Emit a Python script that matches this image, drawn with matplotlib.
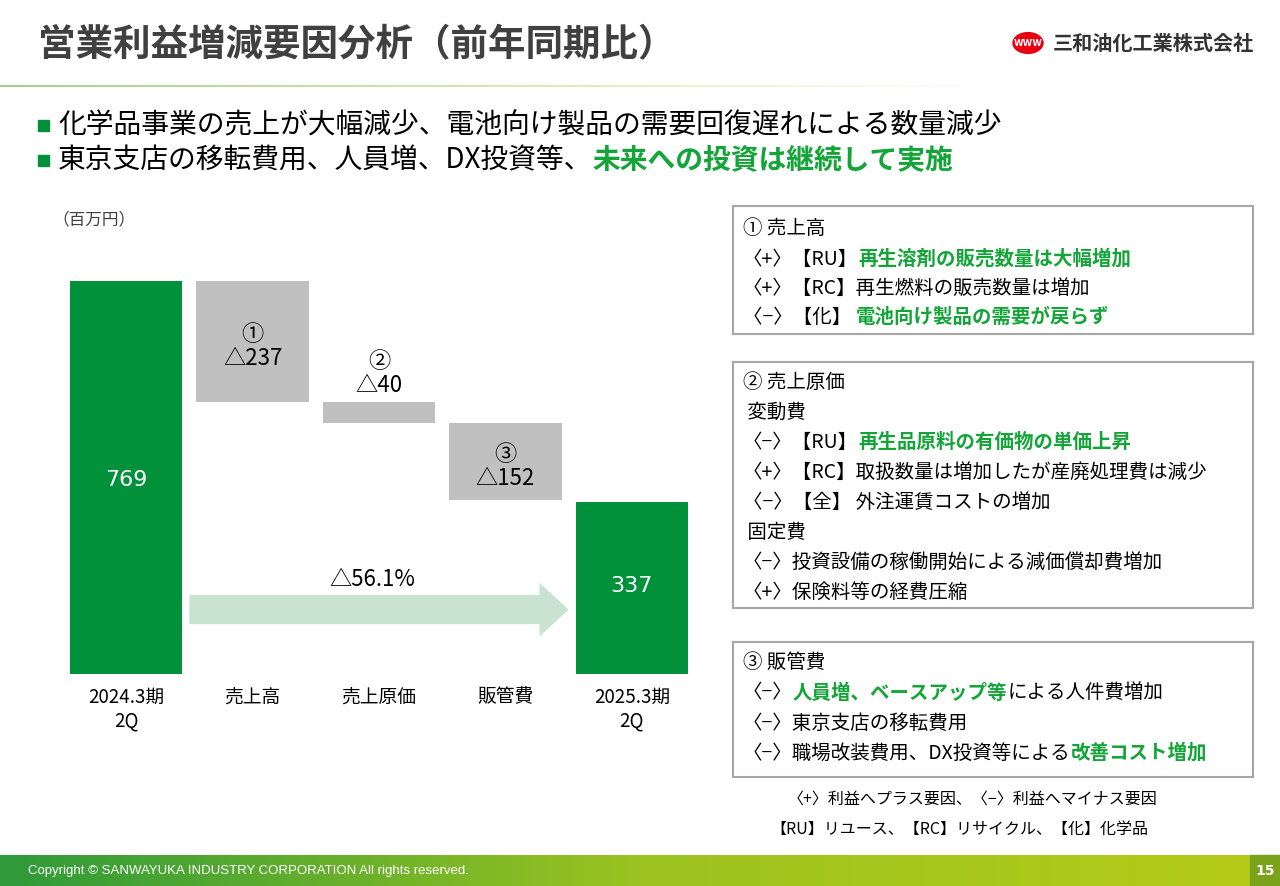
import matplotlib
matplotlib.use("Agg")
import matplotlib.pyplot as plt
from matplotlib.patches import Rectangle, Circle, FancyArrow
from matplotlib.colors import LinearSegmentedColormap
import numpy as np

plt.rcParams["font.family"] = "Noto Sans CJK JP"

categories = ["2024.3期\n2Q", "売上高", "売上原価", "販管費", "2025.3期\n2Q"]
start_value = 769
changes = [-237, -40, -152]
end_value = 337
change_labels = ["①\n△237", "②\n△40", "③\n△152"]
total_label = "△56.1%"

GREEN = "#00913a"
TGREEN = "#13a538"
GRAY = "#c0c0c0"
DARK = "#404040"

W, H = 1280, 886
fig = plt.figure(figsize=(12.8, 8.86), dpi=100)


def fx(x):
    return x / W


def fy(y):
    return 1 - y / H


def runs(x, y, parts, size=13):
    r = fig.canvas.get_renderer()
    for txt, col, bold in parts:
        t = fig.text(fx(x), fy(y), txt, color=col, fontsize=size,
                     fontweight="bold" if bold else "normal", va="center", ha="left")
        x += t.get_window_extent(renderer=r).width


# header
fig.text(fx(38), fy(45), "営業利益増減要因分析（前年同期比）", fontsize=27, fontweight="bold",
         color=DARK, va="center")
lax = fig.add_axes([0, fy(87), fx(980), 2.5 / H])
lax.imshow(np.linspace(0, 1, 256).reshape(1, -1), aspect="auto",
           cmap=LinearSegmentedColormap.from_list("l", ["#a9cf8a", "#d8e8b0", "#ffffff"]),
           extent=[0, 1, 0, 1])
lax.axis("off")
fig.add_artist(Circle((fx(1028), fy(43)), 15 / W, color="#e60012",
                      transform=fig.transFigure))
fig.text(fx(1028), fy(43), "www", color="white", fontsize=8, fontweight="bold",
         ha="center", va="center")
fig.text(fx(1053), fy(43), "三和油化工業株式会社", fontsize=14.5, fontweight="bold",
         color="#333333", va="center")

# bullets
for yy, parts in [(125, [("化学品事業の売上が大幅減少、電池向け製品の需要回復遅れによる数量減少", "black", False)]),
                  (160, [("東京支店の移転費用、人員増、DX投資等、", "black", False),
                         ("未来への投資は継続して実施", TGREEN, True)])]:
    fig.add_artist(Rectangle((fx(38), fy(yy + 6)), 11 / W, 11 / H, color=GREEN,
                             transform=fig.transFigure))
    runs(58, yy, parts, size=20)

fig.text(fx(52), fy(220), "（百万円）", fontsize=12, color=DARK, va="center")

# waterfall
ax = fig.add_axes([fx(63), fy(674), 632 / W, 464 / H])
x = np.arange(len(categories))
ax.bar(0, start_value, width=0.89, color=GREEN)
ax.text(0, start_value / 2 - 5, str(start_value), color="white", fontsize=16,
        ha="center", va="center", fontfamily="DejaVu Sans")
level = start_value
for i, (c, lab) in enumerate(zip(changes, change_labels), start=1):
    ax.bar(i, -c, bottom=level + c, width=0.89, color=GRAY)
    if -c > 100:
        ax.text(i, level + c / 2 - 10, lab, fontsize=16, ha="center", va="center",
                color="black", linespacing=1.05)
    else:
        ax.text(i, level + 10, lab, fontsize=16, ha="center", va="bottom",
                color="black", linespacing=1.05)
    level += c
ax.bar(4, end_value, width=0.89, color=GREEN)
ax.text(4, end_value / 2 + 3, str(end_value), color="white", fontsize=16,
        ha="center", va="center", fontfamily="DejaVu Sans")
ax.set_xlim(-0.5, 4.5)
ax.set_ylim(0, 908)
ax.set_xticks(x)
ax.set_xticklabels(categories, fontsize=13.5)
ax.tick_params(length=0, pad=9)
ax.set_yticks([])
for s in ax.spines.values():
    s.set_visible(False)
ax.add_patch(FancyArrow(0.5, 126, 3.0, 0, width=57, head_width=105, head_length=0.23,
                        length_includes_head=True, color="#c8e3cf", lw=0))
ax.text(1.95, 162, total_label, fontsize=16, ha="center", va="bottom")

# right boxes
boxes = [
    (206, 334, [
        (228, [("① 売上高", "black", False)]),
        (259, [("〈+〉【RU】", "black", False), ("再生溶剤の販売数量は大幅増加", TGREEN, True)]),
        (288, [("〈+〉【RC】再生燃料の販売数量は増加", "black", False)]),
        (317, [("〈−〉【化】 ", "black", False), ("電池向け製品の需要が戻らず", TGREEN, True)]),
    ]),
    (362, 608, [
        (382, [("② 売上原価", "black", False)]),
        (412, [(" 変動費", "black", False)]),
        (442, [("〈−〉【RU】", "black", False), ("再生品原料の有価物の単価上昇", TGREEN, True)]),
        (472, [("〈+〉【RC】取扱数量は増加したが産廃処理費は減少", "black", False)]),
        (502, [("〈−〉【全】 外注運賃コストの増加", "black", False)]),
        (532, [(" 固定費", "black", False)]),
        (562, [("〈−〉投資設備の稼働開始による減価償却費増加", "black", False)]),
        (592, [("〈+〉保険料等の経費圧縮", "black", False)]),
    ]),
    (642, 777, [
        (662, [("③ 販管費", "black", False)]),
        (693, [("〈−〉", "black", False), ("人員増、ベースアップ等", TGREEN, True),
               ("による人件費増加", "black", False)]),
        (723, [("〈−〉東京支店の移転費用", "black", False)]),
        (753, [("〈−〉職場改装費用、DX投資等による", "black", False),
               ("改善コスト増加", TGREEN, True)]),
    ]),
]
for top, bot, lines in boxes:
    fig.add_artist(Rectangle((fx(733), fy(bot)), 520 / W, (bot - top) / H, fill=False,
                             ec="#a6a6a6", lw=1.5, transform=fig.transFigure))
    for yy, parts in lines:
        runs(743, yy, parts, size=14)

fig.text(fx(788), fy(799), "〈+〉利益へプラス要因、〈−〉利益へマイナス要因", fontsize=11.5, va="center")
fig.text(fx(770), fy(829), "【RU】リユース、【RC】リサイクル、【化】化学品", fontsize=11.5, va="center")

# footer
fax = fig.add_axes([0, 0, 1, 31 / H])
cmap = LinearSegmentedColormap.from_list("g", ["#2e9a3a", "#9cc320", "#b5cc18"])
fax.imshow(np.linspace(0, 1, 256).reshape(1, -1), aspect="auto", cmap=cmap, extent=[0, 1, 0, 1])
fax.axis("off")
fig.text(fx(28), fy(871), "Copyright © SANWAYUKA INDUSTRY CORPORATION All rights reserved.",
         fontsize=9.5, color="white", va="center", fontfamily="Liberation Sans")
fig.add_artist(Rectangle((fx(1250), 0), 30 / W, 31 / H, color="#7aa21a",
                         transform=fig.transFigure))
fig.text(fx(1265), fy(871), "15", fontsize=10, color="white", fontweight="bold",
         ha="center", va="center", fontfamily="DejaVu Sans")

fig.savefig("out.png", dpi=100)
